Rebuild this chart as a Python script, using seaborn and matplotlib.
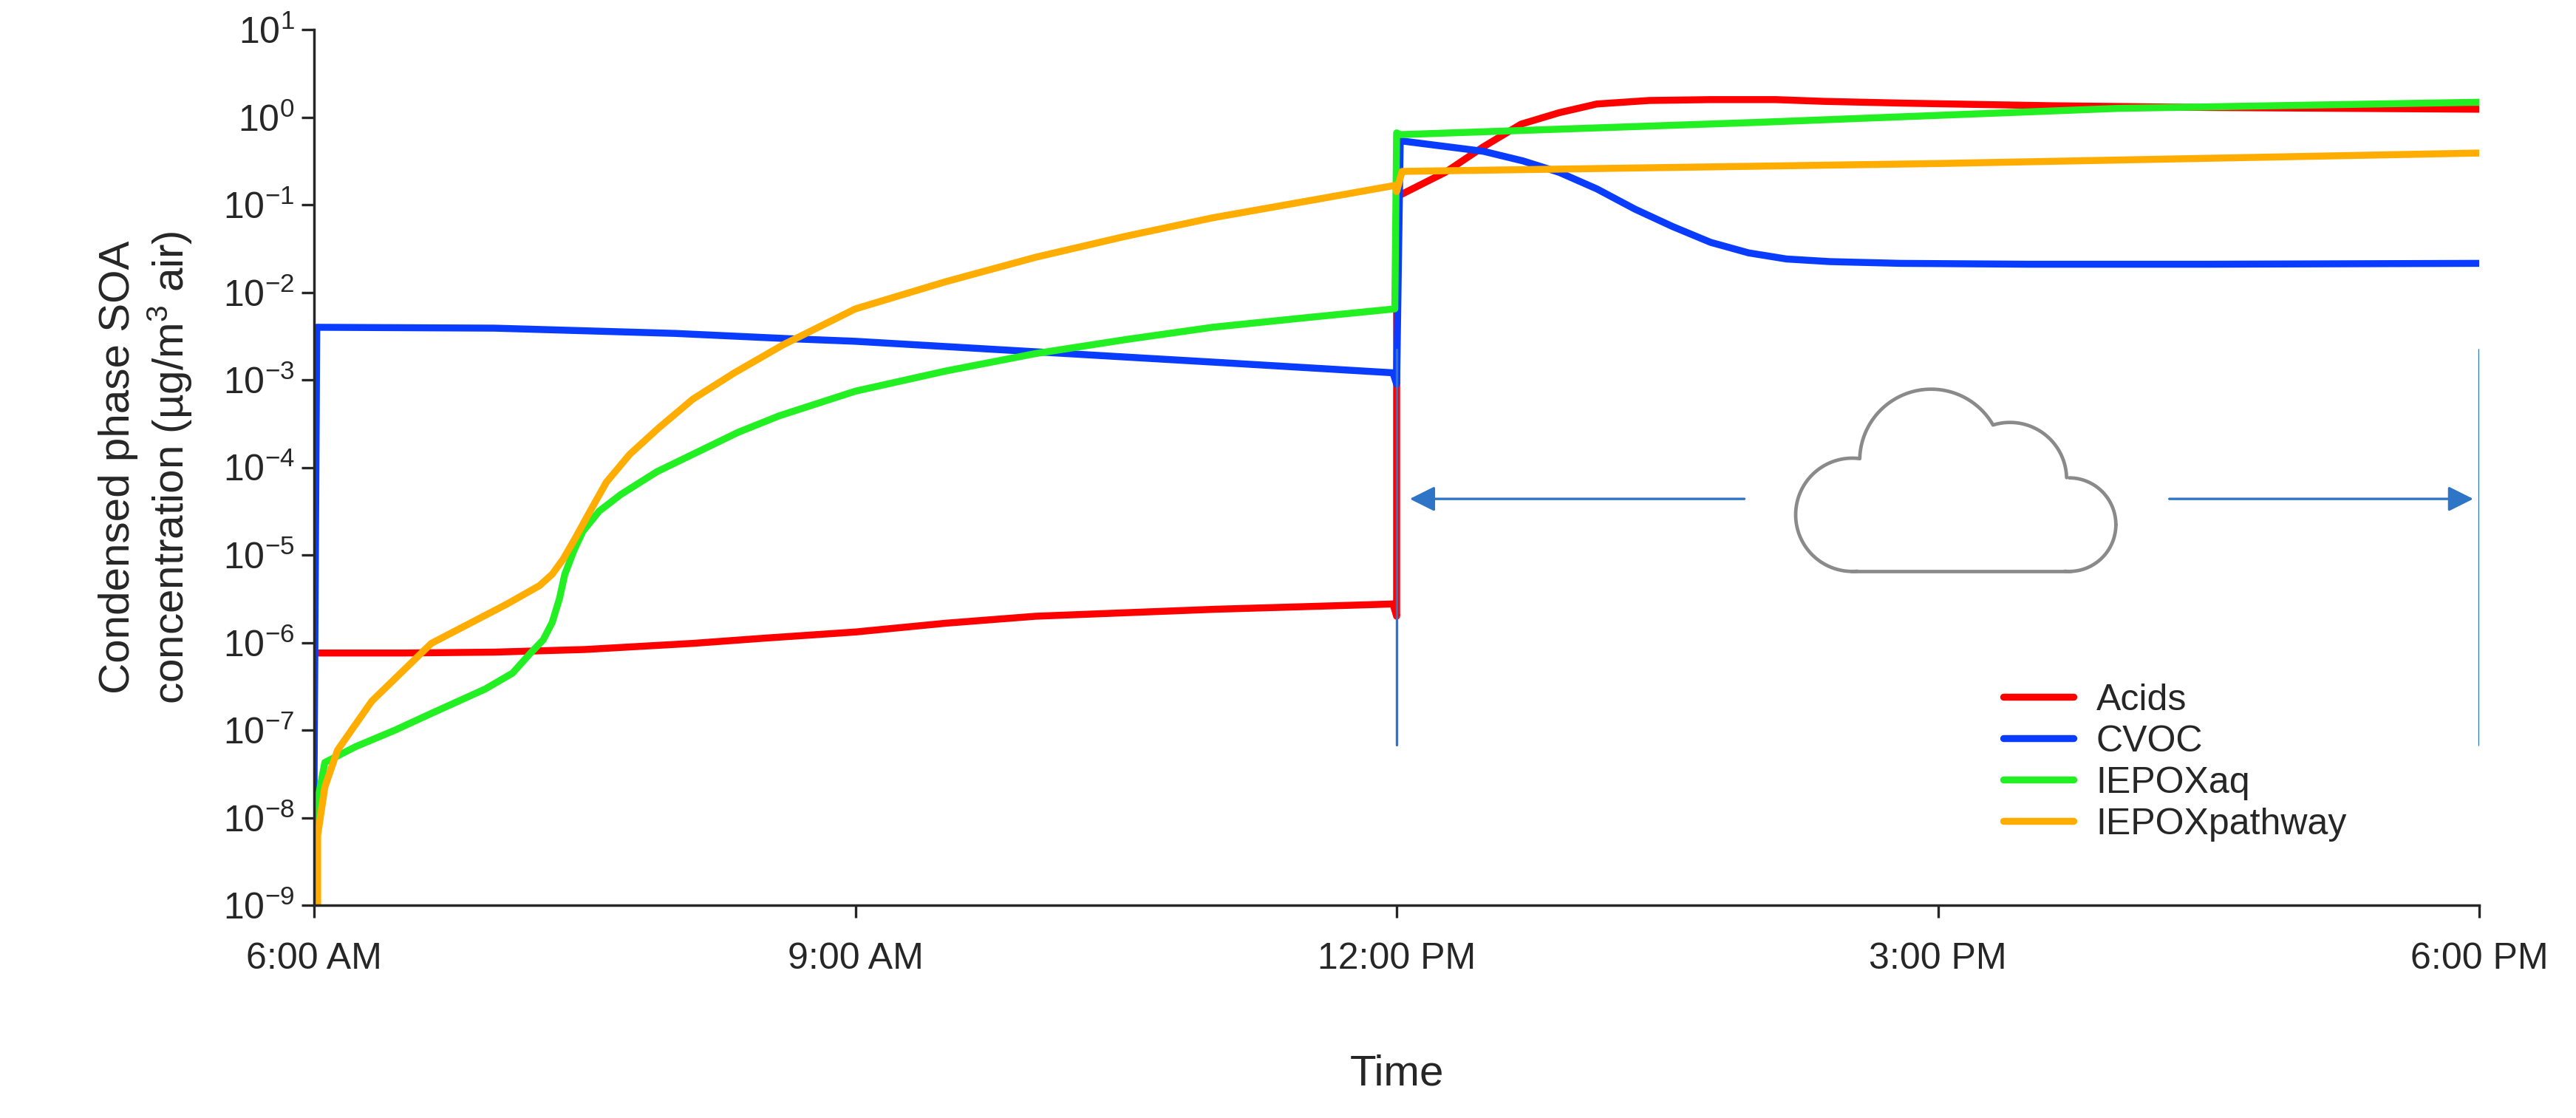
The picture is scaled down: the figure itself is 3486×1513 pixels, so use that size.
import numpy as np
import pandas as pd
import matplotlib
matplotlib.use("Agg")
import matplotlib.pyplot as plt
import seaborn as sns
from matplotlib.ticker import FixedLocator, FuncFormatter

sns.set_theme(style="ticks")
plt.rcParams['font.family'] = ['Liberation Sans', 'DejaVu Sans']
plt.rcParams['mathtext.fontset'] = 'custom'
plt.rcParams['mathtext.rm'] = 'Liberation Sans'
plt.rcParams['mathtext.it'] = 'Liberation Sans'
plt.rcParams['axes.unicode_minus'] = False

# hours since 6:00 AM ; log10 of concentration
acids_t = [0.0, 0.5, 1.0, 1.5, 2.1, 2.5, 3.0, 3.5, 4.0, 4.5, 5.0, 5.5, 5.98, 6.0, 6.0, 6.27, 6.48, 6.69, 6.9, 7.11, 7.4, 7.74, 8.1, 8.37, 8.8, 9.63, 10.5, 12.0]
acids_log = [-6.12, -6.12, -6.11, -6.08, -6.01, -5.95, -5.88, -5.78, -5.70, -5.66, -5.62, -5.59, -5.56, -5.7, -0.91, -0.63, -0.34, -0.08, 0.05, 0.15, 0.19, 0.20, 0.20, 0.18, 0.16, 0.13, 0.11, 0.09]
cvoc_t = [0.0, 0.0, 0.015, 1.0, 2.0, 2.63, 3.0, 4.0, 5.0, 5.98, 6.0, 6.02, 6.48, 6.7, 6.9, 7.11, 7.32, 7.53, 7.74, 7.95, 8.16, 8.4, 8.79, 9.5, 10.5, 12.0]
cvoc_log = [-9.0, -7.6, -2.40, -2.41, -2.47, -2.53, -2.56, -2.68, -2.80, -2.92, -3.05, -0.27, -0.39, -0.50, -0.63, -0.82, -1.05, -1.25, -1.43, -1.55, -1.62, -1.65, -1.67, -1.68, -1.68, -1.67]
iepoxaq_t = [0.0, 0.02, 0.06, 0.23, 0.45, 0.65, 0.95, 1.1, 1.2, 1.27, 1.32, 1.36, 1.39, 1.44, 1.49, 1.58, 1.70, 1.9, 2.12, 2.35, 2.58, 3.0, 3.5, 4.0, 4.5, 4.98, 5.5, 5.99, 6.0, 6.02, 8.0, 10.0, 12.0]
iepoxaq_log = [-9.0, -7.8, -7.37, -7.19, -7.0, -6.81, -6.53, -6.35, -6.12, -5.97, -5.77, -5.5, -5.22, -4.95, -4.73, -4.5, -4.31, -4.05, -3.83, -3.6, -3.41, -3.13, -2.9, -2.70, -2.54, -2.40, -2.29, -2.19, -0.18, -0.20, -0.06, 0.10, 0.17]
iepoxpw_t = [0.02, 0.02, 0.06, 0.13, 0.32, 0.65, 1.07, 1.25, 1.32, 1.38, 1.45, 1.53, 1.62, 1.75, 1.91, 2.1, 2.33, 2.6, 3.0, 3.5, 4.0, 4.5, 4.98, 5.5, 5.99, 6.0, 6.03, 9.0, 12.0]
iepoxpw_log = [-9.0, -8.2, -7.65, -7.23, -6.67, -6.01, -5.56, -5.35, -5.22, -5.05, -4.80, -4.5, -4.17, -3.85, -3.55, -3.22, -2.92, -2.6, -2.19, -1.88, -1.60, -1.36, -1.15, -0.96, -0.78, -0.85, -0.62, -0.53, -0.41]
series_names = ["Acids", "CVOC", "IEPOXaq", "IEPOXpathway"]
series_colors = ["#ff0000", "#0a3cff", "#22f022", "#ffad00"]
xtick_pos = [0, 3, 6, 9, 12]
xtick_labels = ["6:00 AM", "9:00 AM", "12:00 PM", "3:00 PM", "6:00 PM"]

W, H = 3486, 1513
fig = plt.figure(figsize=(W / 200, H / 200), dpi=200)
AX0, AX1, AY0, AY1 = 425, 3355, 40, 1225   # axes box in pixels (top-down y)
ax = fig.add_axes([AX0 / W, 1 - AY1 / H, (AX1 - AX0) / W, (AY1 - AY0) / H])

data = [(acids_t, acids_log), (cvoc_t, cvoc_log), (iepoxaq_t, iepoxaq_log), (iepoxpw_t, iepoxpw_log)]
for (t, lv), name, c in zip(data, series_names, series_colors):
    df = pd.DataFrame({"t": t, "v": 10.0 ** np.array(lv)})
    sns.lineplot(data=df, x="t", y="v", sort=False, estimator=None, color=c, lw=3.4, label=name, ax=ax)

ax.set_yscale("log")
ax.set_ylim(1e-9, 10)
ax.set_xlim(0, 12)
ax.yaxis.set_major_locator(FixedLocator([10.0 ** k for k in range(-9, 2)]))
ax.yaxis.set_major_formatter(FuncFormatter(lambda v, p: "10$^{\\mathrm{%d}}$" % round(np.log10(v))))
ax.yaxis.set_minor_locator(FixedLocator([]))
ax.set_xticks(xtick_pos)
ax.set_xticklabels(xtick_labels)
ax.tick_params(labelsize=18, length=6, width=1.2, direction="out")
ax.tick_params(axis="x", pad=12)
ax.spines["top"].set_visible(False)
ax.spines["right"].set_visible(False)
ax.set_xlabel("Time", fontsize=21, labelpad=38)
ax.set_ylabel("Condensed phase SOA\nconcentration (µg/m$^3$ air)", fontsize=21, labelpad=14)

# cloud indicator lines and arrows
blue = "#2e75c8"
ax.plot([6, 6], [10 ** -7.17, 10 ** -2.65], color=blue, lw=1.2)
ax.plot([12, 12], [10 ** -7.17, 10 ** -2.65], color=blue, lw=1.2)
ya = 10 ** -4.36
ax.annotate("", xy=(6.05, ya), xytext=(7.95, ya),
            arrowprops=dict(arrowstyle="-|>", color=blue, lw=1.2, mutation_scale=26))
ax.annotate("", xy=(11.99, ya), xytext=(10.26, ya),
            arrowprops=dict(arrowstyle="-|>", color=blue, lw=1.2, mutation_scale=26))

# cloud outline in image pixels (round lobes)
circles = [(2400 + c[0] / 3, 480 + c[1] / 3, c[2] / 3) for c in
           [(320, 650, 230), (640, 430, 290), (960, 505, 230), (1200, 690, 190)]]
base_y = 480 + 880 / 3
rect = (2400 + 320 / 3, 2400 + 1200 / 3, 480 + 500 / 3, base_y)
def inside(x, y, skip):
    for i, (cx, cy, r) in enumerate(circles):
        if i != skip and (x - cx) ** 2 + (y - cy) ** 2 < r ** 2 - 0.3:
            return True
    return rect[0] < x < rect[1] and rect[2] < y < rect[3] - 0.3
def to_ax(x, y):
    return (x - AX0) / (AX1 - AX0), (AY1 - y) / (AY1 - AY0)
gray = "#8a8a8a"
for i, (cx, cy, r) in enumerate(circles):
    xs, ys = [], []
    for a in np.linspace(0, 2 * np.pi, 1200):
        x, y = cx + r * np.cos(a), cy + r * np.sin(a)
        if y > base_y + 0.3 or inside(x, y, i):
            xs.append(np.nan); ys.append(np.nan)
        else:
            px, py = to_ax(x, y); xs.append(px); ys.append(py)
    ax.plot(xs, ys, color=gray, lw=1.7, transform=ax.transAxes)
bx0, by = to_ax(rect[0] - 2, base_y); bx1, _ = to_ax(rect[1] + 2, base_y)
ax.plot([bx0, bx1], [by, by], color=gray, lw=1.7, transform=ax.transAxes)

ax.legend(loc="lower left", bbox_to_anchor=(0.765, 0.035), frameon=False, fontsize=18,
          handlelength=1.9, handletextpad=0.6, labelspacing=0.2)
fig.savefig("out.png", dpi=200)
